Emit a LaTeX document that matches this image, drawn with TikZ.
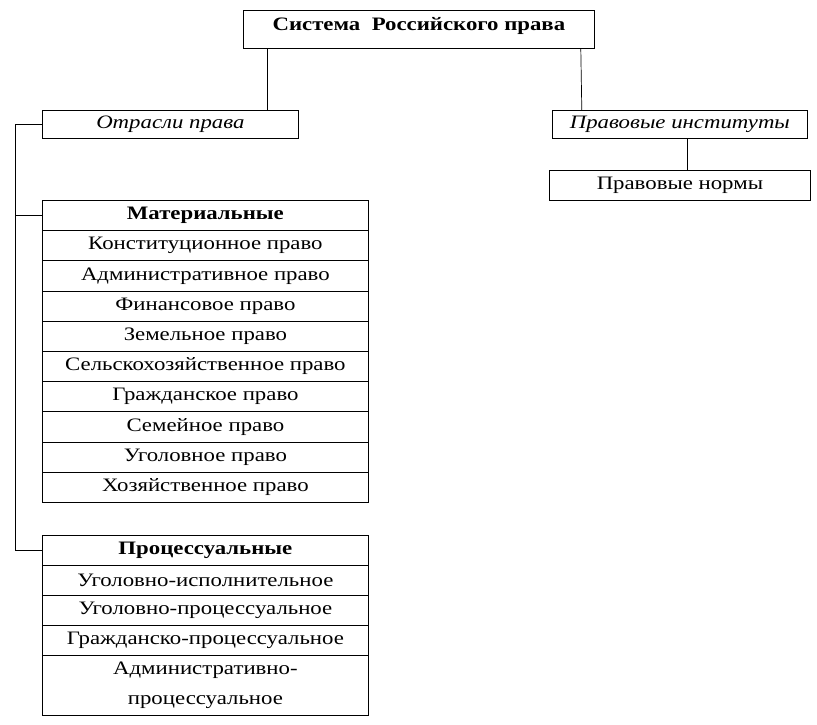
\documentclass[tikz,border=0pt]{standalone}
\usepackage{fontspec}
\setmainfont{Liberation Serif}[FakeStretch=1.2]
\usetikzlibrary{positioning,calc}
\begin{document}
\begin{tikzpicture}[x=1pt,y=-1pt,
  box/.style={draw,line width=0.8pt,rectangle,inner sep=0pt,anchor=north west,
     font=\fontsize{19}{21}\selectfont,align=center},
  row/.style={box,minimum width=326pt,minimum height=30.2pt},
  conn/.style={line width=0.7pt}]
\useasboundingbox (0,0) rectangle (817,725);
% top
\node[box,minimum width=351pt,minimum height=38pt,font=\fontsize{19}{21}\selectfont\bfseries,text depth=11pt] (top) at (243,10) {Система\ \ Российского права};
\node[box,minimum width=256pt,minimum height=28pt,font=\fontsize{19}{21}\selectfont\itshape] (otr) at (42,110) {Отрасли права};
\node[box,minimum width=255pt,minimum height=28pt,font=\fontsize{19}{21}\selectfont\itshape] (inst) at (552,110) {Правовые институты};
\node[box,minimum width=261pt,minimum height=30pt] (norm) at (549,170) {Правовые нормы};
% material
\node[row,font=\fontsize{19}{21}\selectfont\bfseries] (m0) at (42,200) {Материальные};
\node[row] (m1) at (42,230.2) {Конституционное право};
\node[row] (m2) at (42,260.4) {Административное право};
\node[row] (m3) at (42,290.6) {Финансовое право};
\node[row] (m4) at (42,320.8) {Земельное право};
\node[row] (m5) at (42,351) {Сельскохозяйственное право};
\node[row] (m6) at (42,381.2) {Гражданское право};
\node[row] (m7) at (42,411.4) {Семейное право};
\node[row] (m8) at (42,441.6) {Уголовное право};
\node[row] (m9) at (42,471.8) {Хозяйственное право};
% procedural
\node[row,font=\fontsize{19}{21}\selectfont\bfseries] (p0) at (42,535) {Процессуальные};
\node[row] (p1) at (42,565) {Уголовно-исполнительное};
\node[row] (p2) at (42,595) {Уголовно-процессуальное};
\node[row] (p3) at (42,625) {Гражданско-процессуальное};
\node[row,minimum height=60pt,font=\fontsize{19}{30}\selectfont] (p4) at (42,655) {Административно-\\процессуальное};
% connectors
\draw[conn] ([xshift=24pt]top.south west) -- ([xshift=24pt]top.south west |- otr.north);
\draw[conn] ([xshift=-14pt]top.south east) -- ([xshift=-13pt]top.south east |- inst.north);
\draw[conn] ([xshift=7.5pt]inst.south) -- ([xshift=7.5pt]inst.south |- norm.north);
\coordinate (L) at (15,127);
\draw[line width=0.8pt] (otr.west) -- (otr.west -| L) |- (p0.west);
\draw[line width=0.8pt] (m0.west) -- (m0.west -| L);
\end{tikzpicture}
\end{document}
